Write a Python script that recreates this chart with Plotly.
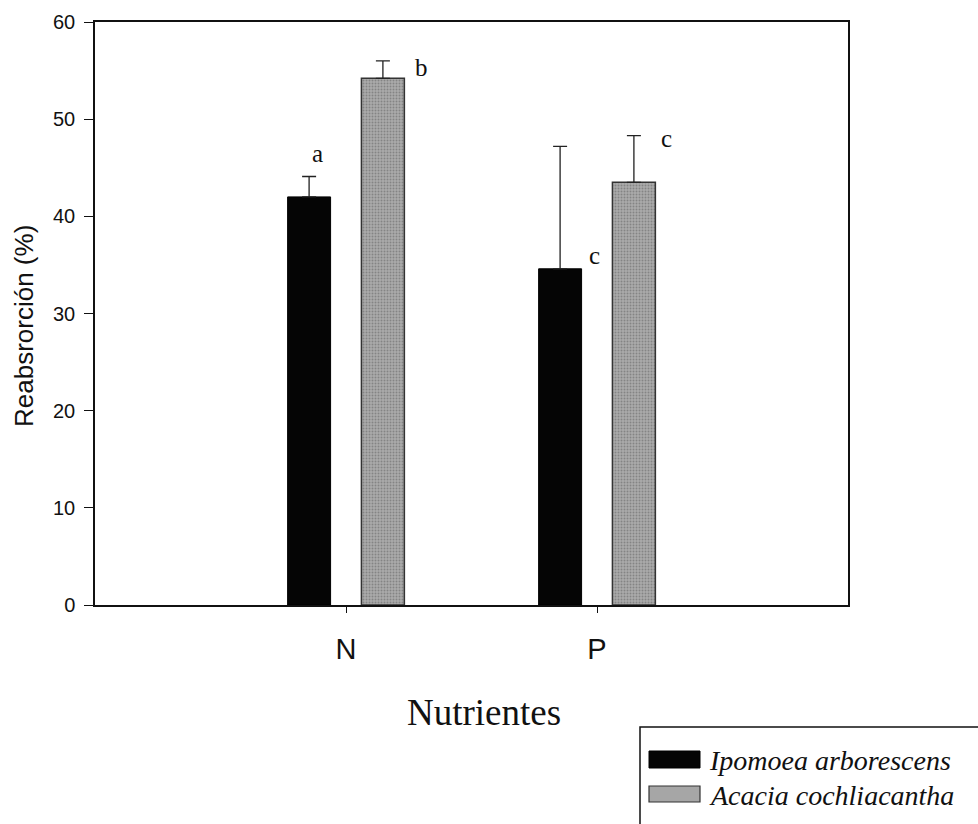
import plotly.graph_objects as go

# Nutrient resorption by species
nutrients = ["N", "P"]
ipomoea = [42.0, 34.6]
ipomoea_err = [2.1, 12.6]
acacia = [54.2, 43.5]
acacia_err = [1.8, 4.8]

# Significance letters
letters_ipomoea = ["a", "c"]
letters_acacia = ["b", "c"]

fig = go.Figure()

fig.add_trace(go.Bar(
    name="Ipomoea arborescens",
    x=nutrients, y=ipomoea,
    marker=dict(color="#050505", line=dict(color="#000000", width=1)),
    error_y=dict(type="data", array=ipomoea_err, symmetric=False,
                 arrayminus=[0, 0], color="#222222", thickness=1.3, width=7),
    showlegend=False,
))
fig.add_trace(go.Bar(
    name="Acacia cochliacantha",
    x=nutrients, y=acacia,
    marker=dict(color="#a0a0a0",
                line=dict(color="#333333", width=1.5),
                pattern=dict(shape=".", fgcolor="#5e5e5e", bgcolor="#ababab",
                             size=3, solidity=0.35)),
    error_y=dict(type="data", array=acacia_err, symmetric=False,
                 arrayminus=[0, 0], color="#222222", thickness=1.3, width=7),
    showlegend=False,
))

serif = "Liberation Serif, Times New Roman, serif"
sans = "Liberation Sans, Arial, sans-serif"

# Letters above bars
ann = []
ipo_offsets = [(-29, 46.5), (-3, 36.0)]
aca_offsets = [(75, 55.3), (69, 48.0)]
for i, nut in enumerate(nutrients):
    ann.append(dict(x=nut, y=ipo_offsets[i][1], xref="x", yref="y",
                    xshift=ipo_offsets[i][0], text=letters_ipomoea[i],
                    showarrow=False, font=dict(family=serif, size=25, color="#111")))
    ann.append(dict(x=nut, y=aca_offsets[i][1], xref="x", yref="y",
                    xshift=aca_offsets[i][0], text=letters_acacia[i],
                    showarrow=False, font=dict(family=serif, size=25, color="#111")))

# Page geometry: paper coordinates span the plot area only
W, H = 978, 824
ML, MR, MT, MB = 95, 130, 22, 219
PW, PH = W - ML - MR, H - MT - MB

def px(x):
    return (x - ML) / PW

def py(y):
    return (H - MB - y) / PH

# Legend drawn as a framed box with swatches
shapes = [
    dict(type="rect", xref="paper", yref="paper",
         x0=px(640), x1=px(990), y0=py(840), y1=py(727),
         line=dict(color="#111", width=1.5), fillcolor="rgba(0,0,0,0)"),
    dict(type="rect", xref="paper", yref="paper",
         x0=px(649), x1=px(700), y0=py(768), y1=py(751),
         line=dict(color="#000", width=1), fillcolor="#050505"),
    dict(type="rect", xref="paper", yref="paper",
         x0=px(649), x1=px(700), y0=py(802), y1=py(786),
         line=dict(color="#333", width=1.2), fillcolor="#a6a6a6"),
]
ann.append(dict(xref="paper", yref="paper", x=px(707), y=py(760), xanchor="left",
                yanchor="middle", text="<i>Ipomoea arborescens</i>", showarrow=False,
                font=dict(family=serif, size=28, color="#111")))
ann.append(dict(xref="paper", yref="paper", x=px(707), y=py(795), xanchor="left",
                yanchor="middle", text="<i>Acacia cochliacantha</i>", showarrow=False,
                font=dict(family=serif, size=28, color="#111")))
ann.append(dict(xref="paper", yref="paper", x=px(484), y=py(712), xanchor="center",
                yanchor="middle", text="Nutrientes", showarrow=False,
                font=dict(family=serif, size=37, color="#111")))
# Y-axis title
ann.append(dict(xref="paper", yref="paper", x=px(24), y=py(326), xanchor="center",
                yanchor="middle", textangle=-90, text="Reabsrorción (%)", showarrow=False,
                font=dict(family=sans, size=26, color="#111")))

fig.update_layout(
    width=W, height=H,
    margin=dict(l=ML, r=MR, t=MT, b=MB),
    paper_bgcolor="white", plot_bgcolor="white",
    barmode="group", bargap=0.412, bargroupgap=0.418,
    shapes=shapes, annotations=ann,
    xaxis=dict(
        type="category", range=[-1, 2],
        showline=True, linecolor="#111", linewidth=1.5, mirror=True,
        ticks="outside", ticklen=6, tickcolor="#111", tickwidth=1,
        ticklabelstandoff=11,
        tickfont=dict(family=sans, size=29, color="#111"),
        showgrid=False, zeroline=False,
    ),
    yaxis=dict(
        range=[0, 60], dtick=10,
        showline=True, linecolor="#111", linewidth=1.5, mirror=True,
        ticks="outside", ticklen=9, tickcolor="#111", tickwidth=1,
        ticklabelstandoff=5,
        tickfont=dict(family=sans, size=20, color="#111"),
        showgrid=False, zeroline=False,
    ),
)

fig.write_html("out.html")
